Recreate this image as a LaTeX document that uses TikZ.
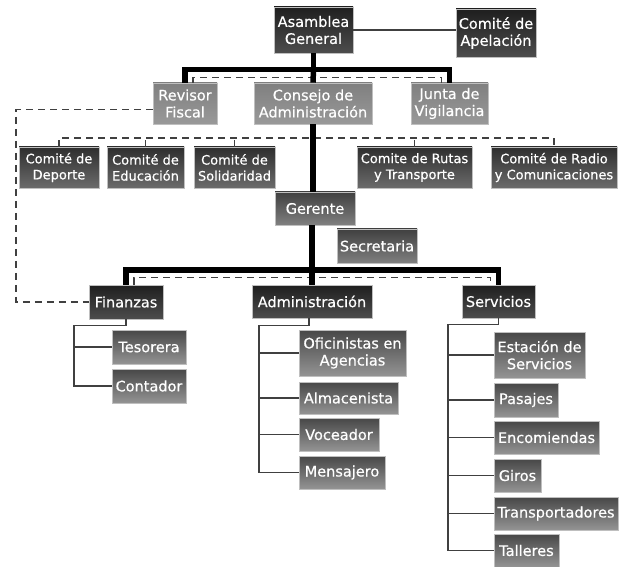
\documentclass[tikz,border=0pt]{standalone}
\usepackage{fontspec}
\setmainfont{DejaVu Sans}[FakeBold=0.5]
\usetikzlibrary{calc,shadings}
\begin{document}
\begin{tikzpicture}[x=1pt,y=-1pt,
  box/.style={draw=black!25, line width=0.7pt, inner sep=0pt, text=white, align=center,
    font=\fontsize{14.5}{17}\selectfont},
  dark/.style={box, top color=black!88, bottom color=black!70},
  light/.style={box, top color=black!50, bottom color=black!40},
  comm/.style={box, top color=black!82, bottom color=black!58, font=\fontsize{13}{16}\selectfont},
  mid/.style={box, top color=black!75, bottom color=black!50},
  leaf/.style={box, top color=black!72, bottom color=black!42},
  thk/.style={line width=5.5pt, black},
  thn/.style={line width=1.3pt, black!75},
  dsh/.style={line width=1.3pt, black!75, dash pattern=on 7pt off 5pt}]
\useasboundingbox (0,0) rectangle (619,567);
\fill[white] (0,0) rectangle (619,567);

% top level
\node[dark, minimum width=79pt, minimum height=46pt] (ag) at (313.5,30) {Asamblea\\General};
\node[dark, minimum width=80pt, minimum height=48pt] (apel) at (496,33) {Comité de\\Apelación};
% second level
\node[light, minimum width=64pt, minimum height=41pt] (rev) at (185,103.5) {Revisor\\Fiscal};
\node[light, minimum width=118pt, minimum height=41pt] (cons) at (313,103.5) {Consejo de\\Administración};
\node[light, minimum width=77pt, minimum height=41pt] (junta) at (449.5,103.5) {Junta de\\Vigilancia};
% committees
\node[comm, minimum width=80pt, minimum height=41pt] (dep) at (59,167.5) {Comité de\\Deporte};
\node[comm, minimum width=77pt, minimum height=41pt] (edu) at (145.5,167.5) {Comité de\\Educación};
\node[comm, minimum width=81pt, minimum height=41pt] (sol) at (234.5,167.5) {Comité de\\Solidaridad};
\node[comm, minimum width=115pt, minimum height=41pt] (rut) at (414.5,167.5) {Comite de Rutas\\y Transporte};
\node[comm, minimum width=126pt, minimum height=41pt] (rad) at (554,167.5) {Comité de Radio\\y Comunicaciones};
% gerente
\node[mid, minimum width=80pt, minimum height=33pt] (ger) at (315,208.5) {Gerente};
\node[mid, minimum width=80pt, minimum height=34pt] (sec) at (377,246) {Secretaria};
% departments
\node[dark, minimum width=74pt, minimum height=34pt] (fin) at (126,302) {Finanzas};
\node[dark, minimum width=120pt, minimum height=33pt] (adm) at (312,301.5) {Administración};
\node[dark, minimum width=73pt, minimum height=33pt] (ser) at (498.5,301.5) {Servicios};
% finanzas children
\node[leaf, minimum width=74pt, minimum height=34pt] (tes) at (149,347) {Tesorera};
\node[leaf, minimum width=74pt, minimum height=34pt] (con) at (149,386) {Contador};
% administracion children
\node[leaf, minimum width=107pt, minimum height=46pt] (ofi) at (352.5,353) {Oficinistas en\\Agencias};
\node[leaf, minimum width=99pt, minimum height=32pt] (alm) at (348.5,398) {Almacenista};
\node[leaf, minimum width=80pt, minimum height=33pt] (voc) at (339,434.5) {Voceador};
\node[leaf, minimum width=86pt, minimum height=33pt] (men) at (342,472.5) {Mensajero};
% servicios children
\node[leaf, minimum width=91pt, minimum height=46pt] (est) at (539.5,355) {Estación de\\Servicios};
\node[leaf, minimum width=64pt, minimum height=34pt] (pas) at (526,400) {Pasajes};
\node[leaf, minimum width=105pt, minimum height=33pt] (enc) at (546.5,437.5) {Encomiendas};
\node[leaf, minimum width=47pt, minimum height=33pt] (gir) at (517.5,475.5) {Giros};
\node[leaf, minimum width=124pt, minimum height=33pt] (tra) at (556,513.5) {Transportadores};
\node[leaf, minimum width=65pt, minimum height=33pt] (tal) at (526.5,550.5) {Talleres};

% dashed connectors
\draw[dsh] ($(rev.north)+(8,0)$) -- ++(0,-5) -| ($(junta.north)+(-8,0)$);
\coordinate (lc) at (16,200);
\draw[dsh] ($(rev.west)+(0,6)$) -| (lc) |- (fin.west);
\coordinate (cl) at (0,138);
\draw[dsh] (dep.north) |- (cl -| rad.north) -- (rad.north);
\foreach \n in {edu,sol,rut} \draw[dsh] (\n.north) -- (\n.north |- cl);
\draw[dsh] ($(fin.north)+(8,0)$) -- ++(0,-7) -| ($(ser.north)+(-8,0)$);

% thick connectors
\coordinate (t1) at ($(ag.south)+(0,16)$);
\draw[thk] (ag.south) -- (t1);
\draw[thk] (rev.north) |- (t1) -| (junta.north);
\draw[thk] (t1) -- (cons.north);
\draw[thk] (cons.south) -- (cons.south |- ger.north);
\coordinate (t2) at (312,270);
\draw[thk] (ger.south -| t2) -- (adm.north);
\draw[thk] (fin.north) |- (t2) -| (ser.north);

% thin connectors
\draw[thn] (ag.east) -- (ag.east -| apel.west);
\coordinate (fv) at (74,0);
\draw[thn] (fin.south) -- ++(0,6) -| (fv |- con.west) -- (con.west);
\draw[thn] (fv |- tes.west) -- (tes.west);
\coordinate (av) at (259,0);
\draw[thn] ($(adm.south)+(-3,0)$) -- ++(0,7) -| (av |- men.west) -- (men.west);
\foreach \n in {ofi,alm,voc} \draw[thn] (av |- \n.west) -- (\n.west);
\coordinate (sv) at (448,0);
\draw[thn] (ser.south) -- ++(0,6) -| (sv |- tal.west) -- (tal.west);
\foreach \n in {est,pas,enc,gir,tra} \draw[thn] (sv |- \n.west) -- (\n.west);
\end{tikzpicture}
\end{document}
